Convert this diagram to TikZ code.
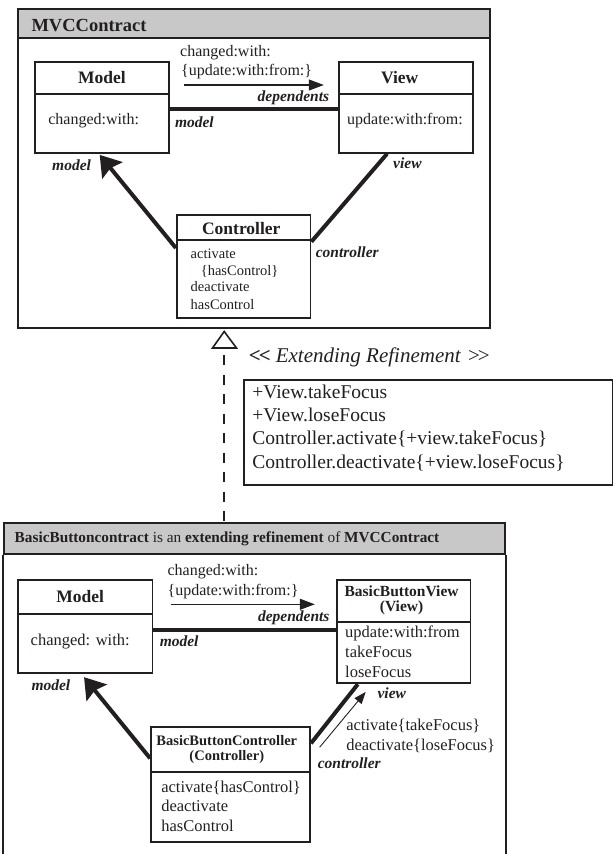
\documentclass[tikz,border=0pt]{standalone}
\usepackage{fontspec}
\setmainfont{Liberation Serif}
\usetikzlibrary{arrows.meta,calc}
\definecolor{ink}{HTML}{231F20}
\definecolor{headgray}{HTML}{C8C8C8}
\newcommand\sz[1]{\fontsize{#1}{#1}\selectfont}

\begin{document}
\begin{tikzpicture}[x=1pt,y=-1pt,
  frame/.style={draw=ink, line width=2pt},
  headbar/.style={draw=ink, line width=2pt, fill=headgray, inner sep=0pt},
  classbox/.style={draw=ink, line width=1.8pt, inner sep=0pt},
  divider/.style={draw=ink, line width=1.8pt},
  assoc/.style={draw=ink, line width=4pt},
  navarrow/.style={draw=ink, line width=4pt, -{Stealth[length=20pt,width=26pt,inset=3pt]}},
  msg/.style={draw=ink, line width=1.1pt, -{Triangle[length=15pt,width=11pt]}},
  msgsmall/.style={draw=ink, line width=0.9pt, -{Triangle[length=12pt,width=9pt]}},
  role/.style={font=\sz{15.5}\bfseries\itshape, inner sep=0pt, text=ink},
  item/.style={font=\sz{16}, inner sep=0pt, anchor=base west, text=ink},
  smallitem/.style={font=\sz{14.5}, inner sep=0pt, anchor=base west, text=ink},
  bigitem/.style={font=\sz{16.5}, inner sep=0pt, anchor=base west, text=ink},
  reftext/.style={font=\sz{19.5}, inner sep=0pt, anchor=base west, text=ink},
  ctitle/.style={font=\sz{17.5}\bfseries, inner sep=0pt, text=ink},
]
\useasboundingbox (0,0) rectangle (613,854);
\clip (0,0) rectangle (613,854);

% ---------------- MVCContract ----------------
\node[frame, minimum width=472pt, minimum height=319pt, inner sep=0pt] (mvc) at (254,168.5) {};
\node[headbar, minimum width=472pt, minimum height=28.7pt] (mvchead) at (254,23.35) {};
\node[font=\sz{18.5}\bfseries, inner sep=0pt, anchor=base west, text=ink] (mvctitle) at (31.3,31) {MVCContract};

% classes
\node[classbox, minimum width=134.5pt, minimum height=91pt] (model1) at (102,107.2) {};
\draw[divider] (model1.west |- 0,94) -- (model1.east |- 0,94);
\node[ctitle] (model1t) at (102,78) {Model};
\node[item] (model1i) at (48.1,124.3) {changed:with:};

\node[classbox, minimum width=134.5pt, minimum height=91pt] (view1) at (405.9,107.2) {};
\draw[divider] (view1.west |- 0,94) -- (view1.east |- 0,94);
\node[ctitle] (view1t) at (399.7,77.5) {View};
\node[item] (view1i) at (347,124.3) {update:with:from:};

\node[classbox, minimum width=133.7pt, minimum height=103.3pt] (ctrl1) at (243.65,266.65) {};
\draw[divider] (ctrl1.west |- 0,240) -- (ctrl1.east |- 0,240);
\node[ctitle] (ctrl1t) at (241.3,228.3) {Controller};
\node[smallitem] (ctrl1a) at (190.5,258.3) {activate};
\node[smallitem] (ctrl1b) at (200.6,275.2) {\{hasControl\}};
\node[smallitem] (ctrl1c) at (190.5,291.7) {deactivate};
\node[smallitem] (ctrl1d) at (190.5,309.3) {hasControl};

% connectors
\draw[assoc] ([yshift=-2.1pt]model1.east) -- ([yshift=-2.1pt]model1.east -| view1.west);
\draw[navarrow] ([yshift=18.65pt]ctrl1.west) -- ([xshift=-2.3pt,yshift=-1.3pt]model1.south);
\draw[assoc] ([yshift=24.95pt]ctrl1.east) -- ([xshift=-18.7pt]view1.south);

\coordinate (m1s) at (183.8,85);
\coordinate (m1e) at (323.8,85);
\draw[msg] (m1s) -- (m1e);
\node[item] (m1l1) at (180,56.5) {changed:with:};
\node[item] (m1l2) at (181,75.5) {\{update:with:from:\}};

\node[role, anchor=base east] (r1dep) at (329.3,101.7) {dependents};
\node[role, anchor=base west] (r1mod) at (174.8,127.3) {model};
\node[role, anchor=base west] (r1mod2) at (52,170) {model};
\node[role, anchor=base west] (r1view) at (393,168.3) {view};
\node[role, anchor=base west] (r1ctrl) at (315.6,257.3) {controller};

% ---------------- refinement ----------------
\draw[draw=ink, line width=1.6pt, fill=white] (212.5,348) -- (224.2,331.5) -- (236.5,348) -- cycle;
\coordinate (trib) at (224,348);
\node[font=\sz{21}, inner sep=0pt, anchor=base west, text=ink] (extlabel) at (248.7,362)
  {{\bfseries <\kern-2pt<}\hspace{5pt}\textit{Extending Refinement}\hspace{7pt}>\kern-2pt>};

\node[draw=ink, line width=2pt, inner sep=0pt, anchor=north west,
      minimum width=369.5pt, minimum height=104.7pt] (refbox) at (242.5,379.3) {};
\node[reftext] (ref1) at (252.2,398.3) {+View.takeFocus};
\node[reftext] (ref2) at (252.2,421.6) {+View.loseFocus};
\node[reftext] (ref3) at (252.2,444.9) {Controller.activate\{+view.takeFocus\}};
\node[reftext] (ref4) at (252.2,468.2) {Controller.deactivate\{+view.loseFocus\}};

% ---------------- BasicButtoncontract ----------------
\node[headbar, minimum width=500.6pt, minimum height=30.7pt] (bbhead) at (254.2,538.65) {};
\draw[frame] (bbhead.south west) -- ++(0,330);
\draw[frame] (bbhead.south east) -- ++(0,330);
\node[font=\sz{15.3}, inner sep=0pt, anchor=base west, text=ink] (bbtitle) at (14.5,542.7)
  {\textbf{BasicButtoncontract} is an \textbf{extending refinement} of \textbf{MVCContract}};

\draw[draw=ink, line width=2pt, dash pattern=on 10pt off 9.5pt] ([yshift=-7pt]trib) -- (trib |- bbhead.north);

% classes
\node[classbox, minimum width=134.9pt, minimum height=93.3pt] (model2) at (85.05,626.65) {};
\draw[divider] (model2.west |- 0,613.7) -- (model2.east |- 0,613.7);
\node[ctitle] (model2t) at (80.2,596.7) {Model};
\node[bigitem] (model2i) at (30.5,645.3) {changed: with:};

\node[classbox, minimum width=133.4pt, minimum height=103.3pt] (view2) at (403.8,631.65) {};
\draw[divider] (view2.west |- 0,621.7) -- (view2.east |- 0,621.7);
\node[font=\sz{15.5}\bfseries, align=center, inner sep=0pt, text=ink] (view2t) at (401.6,600.3)
  {BasicButtonView\\[-0.6pt](View)};
\node[bigitem] (view2a) at (345,637.8) {update:with:from};
\node[bigitem] (view2b) at (345,657.8) {takeFocus};
\node[bigitem] (view2c) at (345,677.8) {loseFocus};

\node[classbox, minimum width=159.1pt, minimum height=115.6pt] (ctrl2) at (230.55,784.5) {};
\draw[divider] (ctrl2.west |- 0,771.7) -- (ctrl2.east |- 0,771.7);
\node[font=\sz{14.5}\bfseries, align=center, inner sep=0pt, text=ink] (ctrl2t) at (226.8,749.3)
  {BasicButtonController\\[1pt](Controller)};
\node[bigitem] (ctrl2a) at (161.1,792.7) {activate\{hasControl\}};
\node[bigitem] (ctrl2b) at (161.1,811.7) {deactivate};
\node[bigitem] (ctrl2c) at (161.1,831.7) {hasControl};

% connectors
\coordinate (mv2) at ([yshift=-3.35pt]model2.east);
\draw[assoc] (mv2) -- (mv2 -| view2.west);
\draw[navarrow] ([yshift=26.2pt]ctrl2.west) -- ([xshift=-1pt,yshift=-3pt]model2.south);
\draw[assoc] ([yshift=41.2pt]ctrl2.east) -- ([xshift=-46pt]view2.south);

\coordinate (m2s) at (171,604.3);
\coordinate (m2e) at (314.8,604.3);
\draw[msg] (m2s) -- (m2e);
\node[item] (m2l1) at (167.4,575.5) {changed:with:};
\node[item] (m2l2) at (167.4,595.5) {\{update:with:from:\}};

\coordinate (m3s) at ([xshift=8.6pt,yshift=37.2pt]ctrl2.east);
\coordinate (m3e) at ([xshift=-38.1pt,yshift=-7.7pt]view2.south);
\draw[msgsmall] (m3s) -- (m3e);
\node[bigitem] (m3l1) at (346.1,730) {activate\{takeFocus\}};
\node[bigitem] (m3l2) at (346.1,750) {deactivate\{loseFocus\}};

\node[role, anchor=base east] (r2dep) at (329.7,621.7) {dependents};
\node[role, anchor=base west] (r2mod) at (159.6,646.7) {model};
\node[role, anchor=base west] (r2mod2) at (31.3,690.7) {model};
\node[role, anchor=base west] (r2view) at (377.4,698.3) {view};
\node[role, anchor=base west] (r2ctrl) at (317.6,768.3) {controller};
\end{tikzpicture}
\end{document}
